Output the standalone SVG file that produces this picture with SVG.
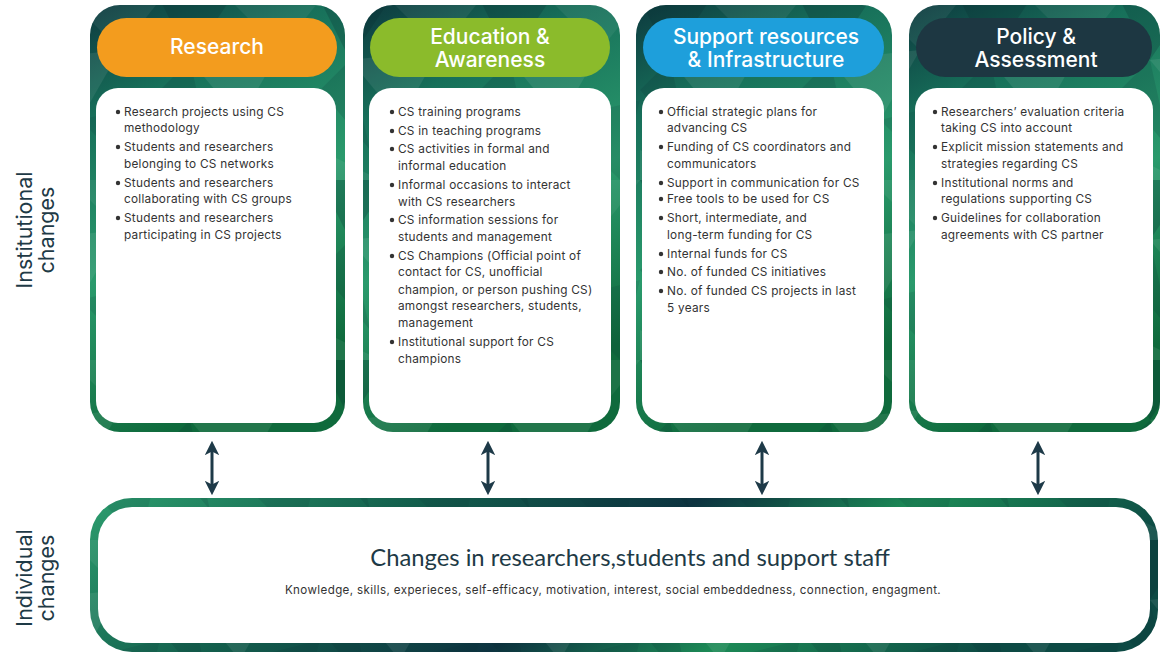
<svg xmlns="http://www.w3.org/2000/svg" width="1160" height="654" viewBox="0 0 1160 654">
<style>
.body{font-family:Inter,"Open Sans",sans-serif;font-size:11.8px;letter-spacing:0.25px;fill:#333;}
.head{font-family:Inter,"Open Sans",sans-serif;font-size:21px;font-weight:500;fill:#fff;text-anchor:middle;}
.side{font-family:Inter,"Open Sans",sans-serif;font-size:21.5px;fill:#1e3a46;text-anchor:middle;}
.title{font-family:Lato,"Open Sans",sans-serif;font-size:23.8px;fill:#1e3a46;text-anchor:middle;}
.sub{font-family:Inter,"Open Sans",sans-serif;font-size:11.6px;letter-spacing:0.38px;fill:#333;text-anchor:middle;}
.bul{fill:#333;}
.frame{fill:url(#gFrame);}
.tex{fill:url(#pTex);}
.white{fill:#fff;}
.arr{stroke:#1e3a48;stroke-width:3;fill:none;marker-start:url(#ah);marker-end:url(#ah);}
</style>
<defs>
<linearGradient id="gFrame" x1="0" y1="0" x2="0.3" y2="1">
<stop offset="0" stop-color="#0d3a3f"/>
<stop offset="0.25" stop-color="#17705a"/>
<stop offset="0.6" stop-color="#2a9a6c"/>
<stop offset="1" stop-color="#0f6a3c"/>
</linearGradient>
<linearGradient id="gBottom" x1="0" y1="0" x2="1" y2="0.2">
<stop offset="0" stop-color="#2c9d6e"/>
<stop offset="0.3" stop-color="#135e4c"/>
<stop offset="0.55" stop-color="#0d3340"/>
<stop offset="0.75" stop-color="#1c8a56"/>
<stop offset="1" stop-color="#0d4a44"/>
</linearGradient>
<pattern id="pTex" patternUnits="userSpaceOnUse" width="160" height="180">
<polygon points="0,0 70,0 30,60" fill="#062a30" fill-opacity="0.25"/>
<polygon points="70,0 160,0 120,50" fill="#ffffff" fill-opacity="0.06"/>
<polygon points="30,60 120,50 80,120" fill="#ffffff" fill-opacity="0.08"/>
<polygon points="0,90 30,60 50,150" fill="#062a30" fill-opacity="0.15"/>
<polygon points="80,120 160,100 140,180" fill="#062a30" fill-opacity="0.12"/>
<polygon points="0,150 60,180 0,180" fill="#ffffff" fill-opacity="0.07"/>
</pattern>
<marker id="ah" viewBox="0 0 10 10" refX="5" refY="5" markerWidth="4.8" markerHeight="4.8" orient="auto-start-reverse" markerUnits="strokeWidth">
<path d="M0,0 L10,5 L0,10 L2.5,5 Z" fill="#1e3a48"/>
</marker>
</defs>

<g id="side-labels">
<text class="side" transform="translate(32,230) rotate(-90)"><tspan x="0" y="0">Institutional</tspan><tspan x="0" y="22">changes</tspan></text>
<text class="side" transform="translate(32,578) rotate(-90)"><tspan x="0" y="0">Individual</tspan><tspan x="0" y="22">changes</tspan></text>
</g>

<g id="card-research">
<rect class="frame" x="90" y="5" width="255" height="427" rx="30"/>
<rect class="tex" x="90" y="5" width="255" height="427" rx="30"/>
<rect x="97" y="18" width="240" height="59" rx="29.5" fill="#f39c1e"/>
<text class="head" x="217" y="54">Research</text>
<rect class="white" x="96" y="88" width="240" height="335" rx="22"/>
<g class="bul"><circle cx="118" cy="112" r="2.2"/><circle cx="118" cy="147" r="2.2"/><circle cx="118" cy="183" r="2.2"/><circle cx="118" cy="218" r="2.2"/></g>
<text class="body">
<tspan x="124" y="116">Research projects using CS</tspan>
<tspan x="124" y="132">methodology</tspan>
<tspan x="124" y="151">Students and researchers</tspan>
<tspan x="124" y="168">belonging to CS networks</tspan>
<tspan x="124" y="187">Students and researchers</tspan>
<tspan x="124" y="203">collaborating with CS groups</tspan>
<tspan x="124" y="222">Students and researchers</tspan>
<tspan x="124" y="239">participating in CS projects</tspan>
</text>
</g>

<g id="card-education">
<rect class="frame" x="363" y="5" width="257" height="427" rx="30"/>
<rect class="tex" x="363" y="5" width="257" height="427" rx="30"/>
<rect x="370" y="18" width="240" height="59" rx="29.5" fill="#8bbb2b"/>
<text class="head"><tspan x="490" y="44">Education &amp;</tspan><tspan x="490" y="67">Awareness</tspan></text>
<rect class="white" x="369" y="88" width="242" height="335" rx="22"/>
<g class="bul"><circle cx="392" cy="112" r="2.2"/><circle cx="392" cy="131" r="2.2"/><circle cx="392" cy="149" r="2.2"/><circle cx="392" cy="185" r="2.2"/><circle cx="392" cy="220" r="2.2"/><circle cx="392" cy="256" r="2.2"/><circle cx="392" cy="342" r="2.2"/></g>
<text class="body">
<tspan x="398" y="116">CS training programs</tspan>
<tspan x="398" y="135">CS in teaching programs</tspan>
<tspan x="398" y="153">CS activities in formal and</tspan>
<tspan x="398" y="170">informal education</tspan>
<tspan x="398" y="189">Informal occasions to interact</tspan>
<tspan x="398" y="206">with CS researchers</tspan>
<tspan x="398" y="224">CS information sessions for</tspan>
<tspan x="398" y="241">students and management</tspan>
<tspan x="398" y="260">CS Champions (Official point of</tspan>
<tspan x="398" y="276">contact for CS, unofficial</tspan>
<tspan x="398" y="294">champion, or person pushing CS)</tspan>
<tspan x="398" y="310">amongst researchers, students,</tspan>
<tspan x="398" y="327">management</tspan>
<tspan x="398" y="346">Institutional support for CS</tspan>
<tspan x="398" y="363">champions</tspan>
</text>
</g>

<g id="card-support">
<rect class="frame" x="636" y="5" width="256" height="427" rx="30"/>
<rect class="tex" x="636" y="5" width="256" height="427" rx="30"/>
<rect x="643" y="18" width="241" height="59" rx="29.5" fill="#1e9fdb"/>
<text class="head"><tspan x="766" y="44">Support resources</tspan><tspan x="766" y="67">&amp; Infrastructure</tspan></text>
<rect class="white" x="642" y="88" width="242" height="335" rx="22"/>
<g class="bul"><circle cx="661" cy="112" r="2.2"/><circle cx="661" cy="147" r="2.2"/><circle cx="661" cy="183" r="2.2"/><circle cx="661" cy="199" r="2.2"/><circle cx="661" cy="218" r="2.2"/><circle cx="661" cy="254" r="2.2"/><circle cx="661" cy="272" r="2.2"/><circle cx="661" cy="291" r="2.2"/></g>
<text class="body">
<tspan x="667" y="116">Official strategic plans for</tspan>
<tspan x="667" y="132">advancing CS</tspan>
<tspan x="667" y="151">Funding of CS coordinators and</tspan>
<tspan x="667" y="168">communicators</tspan>
<tspan x="667" y="187">Support in communication for CS</tspan>
<tspan x="667" y="203">Free tools to be used for CS</tspan>
<tspan x="667" y="222">Short, intermediate, and</tspan>
<tspan x="667" y="239">long-term funding for CS</tspan>
<tspan x="667" y="258">Internal funds for CS</tspan>
<tspan x="667" y="276">No. of funded CS initiatives</tspan>
<tspan x="667" y="295">No. of funded CS projects in last</tspan>
<tspan x="667" y="312">5 years</tspan>
</text>
</g>

<g id="card-policy">
<rect class="frame" x="909" y="5" width="251" height="427" rx="30"/>
<rect class="tex" x="909" y="5" width="251" height="427" rx="30"/>
<rect x="916" y="18" width="236" height="59" rx="29.5" fill="#1d3742"/>
<text class="head"><tspan x="1036" y="44">Policy &amp;</tspan><tspan x="1036" y="67">Assessment</tspan></text>
<rect class="white" x="915" y="88" width="238" height="335" rx="22"/>
<g class="bul"><circle cx="935" cy="112" r="2.2"/><circle cx="935" cy="147" r="2.2"/><circle cx="935" cy="183" r="2.2"/><circle cx="935" cy="218" r="2.2"/></g>
<text class="body">
<tspan x="941" y="116">Researchers’ evaluation criteria</tspan>
<tspan x="941" y="132">taking CS into account</tspan>
<tspan x="941" y="151">Explicit mission statements and</tspan>
<tspan x="941" y="168">strategies regarding CS</tspan>
<tspan x="941" y="187">Institutional norms and</tspan>
<tspan x="941" y="203">regulations supporting CS</tspan>
<tspan x="941" y="222">Guidelines for collaboration</tspan>
<tspan x="941" y="239">agreements with CS partner</tspan>
</text>
</g>

<g id="connectors">
<line class="arr" x1="212" y1="448" x2="212" y2="488"/>
<line class="arr" x1="488" y1="448" x2="488" y2="488"/>
<line class="arr" x1="762" y1="448" x2="762" y2="488"/>
<line class="arr" x1="1038" y1="448" x2="1038" y2="488"/>
</g>

<g id="individual-changes">
<rect x="90" y="498" width="1068" height="154" rx="42" fill="url(#gBottom)"/>
<rect class="tex" x="90" y="498" width="1068" height="154" rx="42"/>
<rect class="white" x="98" y="507" width="1052" height="136" rx="34"/>
<text class="title" x="630" y="566">Changes in researchers,students and support staff</text>
<text class="sub" x="613" y="594">Knowledge, skills, experieces, self-efficacy, motivation, interest, social embeddedness, connection, engagment.</text>
</g>
</svg>
